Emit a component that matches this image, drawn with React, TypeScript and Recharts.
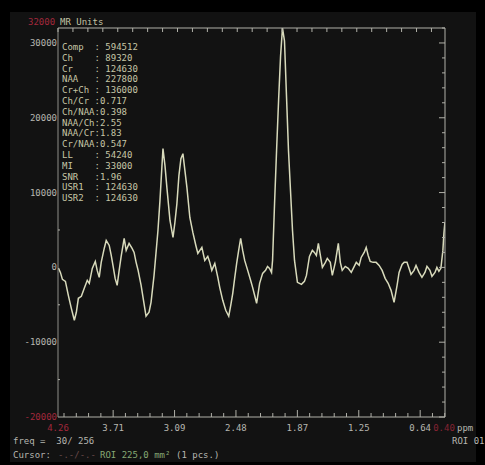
import React from 'react';
import { LineChart, Line, XAxis, YAxis } from 'recharts';

// chemical shift (ppm) of each read point, high to low
const ppm = [
  4.256, 4.236, 4.216, 4.186, 4.157, 4.127, 4.097, 4.077, 4.057, 4.027, 3.998, 3.968, 3.948, 3.918,
  3.888, 3.869, 3.849, 3.829, 3.799, 3.779, 3.749, 3.729, 3.71, 3.69, 3.67, 3.65, 3.63, 3.6, 3.58,
  3.551, 3.521, 3.501, 3.481, 3.461, 3.431, 3.412, 3.382, 3.352, 3.332, 3.302, 3.282, 3.263, 3.243,
  3.223, 3.213, 3.193, 3.173, 3.143, 3.113, 3.094, 3.074, 3.054, 3.034, 3.014, 2.994, 2.974, 2.945,
  2.915, 2.885, 2.865, 2.845, 2.825, 2.796, 2.766, 2.746, 2.726, 2.696, 2.666, 2.647, 2.617, 2.587,
  2.557, 2.537, 2.517, 2.498, 2.478, 2.458, 2.438, 2.418, 2.398, 2.368, 2.339, 2.319, 2.299, 2.279,
  2.249, 2.219, 2.19, 2.17, 2.15, 2.13, 2.12, 2.1, 2.08, 2.06, 2.04, 2.021, 2.001, 1.981, 1.961,
  1.941, 1.921, 1.901, 1.872, 1.832, 1.802, 1.782, 1.752, 1.723, 1.703, 1.683, 1.663, 1.643, 1.623,
  1.593, 1.574, 1.544, 1.524, 1.494, 1.464, 1.444, 1.425, 1.395, 1.365, 1.335, 1.305, 1.285, 1.256,
  1.236, 1.206, 1.186, 1.166, 1.146, 1.117, 1.087, 1.057, 1.027, 0.997, 0.967, 0.938, 0.908, 0.878,
  0.858, 0.828, 0.808, 0.779, 0.759, 0.739, 0.709, 0.689, 0.659, 0.63, 0.6, 0.58, 0.55, 0.53, 0.5,
  0.481, 0.461, 0.441, 0.421, 0.411, 0.401,
];

// signal in MR units at each ppm point
const mrUnits = [
  -100, -670, -1600, -1870, -3730, -5470, -7070, -6000, -4130, -3870, -2800, -1730, -2130, -130,
  800, -400, -1330, 670, 2530, 3600, 2930, 1600, 130, -1470, -2400, -400, 1470, 3870, 2270,
  3200, 2530, 2000, 670, -400, -2400, -4000, -6530, -6000, -4670, -1070, 2000, 4930, 8930,
  13600, 15870, 13600, 10530, 6270, 4000, 6000, 8530, 12270, 14530, 15200, 12930, 10670, 6670,
  4670, 2930, 1870, 2270, 2670, 930, 1470, 670, -400, 530, -1330, -2670, -4400, -5730,
  -6530, -5070, -3470, -1470, 530, 2270, 3870, 2270, 930, -400, -1730, -2670, -3730, -4800,
  -2130, -800, -400, 130, -130, -670, 930, 8530, 15600, 22270, 28270, 32000, 30270, 22930, 15600,
  10270, 4930, 930, -2000, -2270, -1870, -1070, 1470, 2270, 2000, 1600, 3200, 1600, 0,
  670, 1200, 670, -1070, 670, 3200, 670, -400, 130, -130, -670, 130, 670, 270,
  1330, 2000, 2670, 1600, 800, 670, 670, 270, -400, -1470, -2130, -3070, -4670, -2400,
  -670, 400, 670, 670, -130, -930, -400, 270, -670, -1330, -670, 130, -400, -1200, -670,
  0, -530, -130, 2270, 4530, 6000,
];

const xDomain = [0.4, 4.26];
const xMajor = [3.71, 3.09, 2.48, 1.87, 1.25, 0.64];
const xMajorLabels = ['3.71', '3.09', '2.48', '1.87', '1.25', '0.64'];
const xEndLabels = ['4.26', '0.40'];

const yDomain = [-20000, 32000];
const yTicks = [30000, 20000, 10000, 0, -10000];
const yTickLabels = ['30000', '20000', '10000', '0', '-10000'];
const yEndLabels = ['-20000', '32000'];

const infoLines = [
  'Comp  : 594512',
  'Ch    : 89320',
  'Cr    : 124630',
  'NAA   : 227800',
  'Cr+Ch : 136000',
  'Ch/Cr :0.717',
  'Ch/NAA:0.398',
  'NAA/Ch:2.55',
  'NAA/Cr:1.83',
  'Cr/NAA:0.547',
  'LL    : 54240',
  'MI    : 33000',
  'SNR   :1.96',
  'USR1  : 124630',
  'USR2  : 124630',
];

const spectrum = ppm.map((p, i) => ({ ppm: p, mr: mrUnits[i] }));

const FONT = '"DejaVu Sans Mono", monospace';
const FRAME = '#b0b0a8';
const LABEL = '#b6b6b0';
const RED = '#a3283c';
const TRACE = '#d8dabb';

// minor tick positions: five per major step on the bottom, a finer grid on top
const majorStep = 0.6125;
const bottomTicks: number[] = [];
for (let v = xMajor[0] + majorStep; v >= xDomain[0] - 1e-6; v -= majorStep / 5) {
  if (v <= xDomain[1]) bottomTicks.push(+v.toFixed(4));
}
const topTicks: number[] = [];
for (let v = xDomain[1]; v >= xDomain[0]; v -= 0.149) topTicks.push(+v.toFixed(4));
const yMinor: number[] = [];
for (let v = -20000; v <= 32000; v += 2000) yMinor.push(v);

const majorIndex = (v: number) => xMajor.findIndex((m) => Math.abs(m - v) < 0.03);

const BottomTick = (props: any) => {
  const { x, y, payload } = props;
  const idx = majorIndex(payload.value);
  return (
    <g>
      <line x1={x} x2={x} y1={y} y2={y - (idx >= 0 ? 7 : 4)} stroke={FRAME} strokeWidth={1} />
      {idx >= 0 && (
        <text x={x} y={y + 14} textAnchor="middle" fill={LABEL} fontSize={9} fontFamily={FONT}>
          {xMajorLabels[idx]}
        </text>
      )}
    </g>
  );
};

const TopTick = (props: any) => {
  const { x, y } = props;
  return <line x1={x} x2={x} y1={y} y2={y + 4} stroke={FRAME} strokeWidth={1} />;
};

const LeftTick = (props: any) => {
  const { x, y, payload } = props;
  const idx = yTicks.indexOf(payload.value);
  if (idx < 0) return <line x1={x} x2={x + 2} y1={y} y2={y} stroke={FRAME} />;
  return (
    <text x={x - 1} y={y + 3} textAnchor="end" fill={LABEL} fontSize={9} fontFamily={FONT}>
      {yTickLabels[idx]}
    </text>
  );
};

const RightTick = (props: any) => {
  const { x, y, payload } = props;
  const major = payload.value % 10000 === 0;
  return <line x1={x} x2={x - (major ? 6 : 3)} y1={y} y2={y} stroke={FRAME} />;
};

export default function App() {
  return (
    <div style={{ position: 'absolute', left: 0, top: 0, width: 485, height: 465, background: '#000' }}>
      <div style={{ position: 'absolute', left: 10, top: 12, width: 466, height: 450, background: '#121212' }} />
      <div style={{ position: 'absolute', left: 0, top: 0 }}>
        <LineChart width={485} height={465} data={spectrum} margin={{ top: 27, right: 39, left: 0, bottom: 0 }}>
          <XAxis
            xAxisId="b"
            type="number"
            dataKey="ppm"
            domain={xDomain}
            reversed
            allowDataOverflow
            ticks={bottomTicks}
            interval={0}
            tick={<BottomTick />}
            tickLine={false}
            tickSize={0}
            tickMargin={0}
            axisLine={{ stroke: FRAME }}
            height={48}
          />
          <XAxis
            xAxisId="t"
            orientation="top"
            type="number"
            dataKey="ppm"
            domain={xDomain}
            reversed
            allowDataOverflow
            ticks={topTicks}
            interval={0}
            tick={<TopTick />}
            tickLine={false}
            tickSize={0}
            tickMargin={0}
            axisLine={{ stroke: FRAME }}
            height={1}
          />
          <YAxis
            yAxisId="l"
            type="number"
            domain={yDomain}
            allowDataOverflow
            ticks={[...yTicks, -15000, -5000, 5000]}
            interval={0}
            tick={<LeftTick />}
            tickLine={false}
            tickSize={0}
            tickMargin={0}
            axisLine={{ stroke: '#8e8e88' }}
            width={58}
          />
          <YAxis
            yAxisId="r"
            orientation="right"
            type="number"
            domain={yDomain}
            allowDataOverflow
            ticks={yMinor}
            interval={0}
            tick={<RightTick />}
            tickLine={false}
            tickSize={0}
            tickMargin={0}
            axisLine={{ stroke: FRAME }}
            width={1}
          />
          {/* invisible copy so the top and right frame axes get drawn */}
          <Line
            xAxisId="t"
            yAxisId="r"
            type="linear"
            dataKey="mr"
            stroke="none"
            dot={false}
            activeDot={false}
            legendType="none"
            isAnimationActive={false}
          />
          <Line
            xAxisId="b"
            yAxisId="l"
            type="linear"
            dataKey="mr"
            stroke={TRACE}
            strokeWidth={1.5}
            dot={false}
            isAnimationActive={false}
          />
        </LineChart>
      </div>
      <svg width={485} height={465} style={{ position: 'absolute', left: 0, top: 0, pointerEvents: 'none' }}>
        <text x={28} y={25} fill={RED} fontSize={9} fontFamily={FONT}>{yEndLabels[1]}</text>
        <text x={60} y={25} fill="#c2c2a4" fontSize={9} fontFamily={FONT}>MR Units</text>
        <text x={57} y={420} textAnchor="end" fill={RED} fontSize={9} fontFamily={FONT}>{yEndLabels[0]}</text>
        <text x={58} y={431} textAnchor="middle" fill={RED} fontSize={9} fontFamily={FONT}>{xEndLabels[0]}</text>
        <text x={444} y={431} textAnchor="middle" fill={RED} fontSize={9} fontFamily={FONT} opacity={0.8}>{xEndLabels[1]}</text>
        <text x={457} y={431} fill={LABEL} fontSize={9} fontFamily={FONT}>ppm</text>
        {infoLines.map((line, i) => (
          <text key={line} x={62} y={50 + i * 10.8} fill="#c6c6a6" fontSize={9} fontFamily={FONT} style={{ whiteSpace: 'pre' }}>
            {line}
          </text>
        ))}
        <text x={13} y={444} fill={LABEL} fontSize={9} fontFamily={FONT} style={{ whiteSpace: 'pre' }}>freq =  30/ 256</text>
        <text x={13} y={458} fill={LABEL} fontSize={9} fontFamily={FONT} style={{ whiteSpace: 'pre' }}>Cursor:</text>
        <text x={58} y={458} fill="#6a4a4a" fontSize={9} fontFamily={FONT}>-.-/-.-</text>
        <text x={100} y={458} fill="#86a874" fontSize={9} fontFamily={FONT}>ROI 225,0 mm²</text>
        <text x={176} y={458} fill={LABEL} fontSize={9} fontFamily={FONT}>(1 pcs.)</text>
        <text x={452} y={444} fill={LABEL} fontSize={9} fontFamily={FONT}>ROI 01</text>
      </svg>
    </div>
  );
}
